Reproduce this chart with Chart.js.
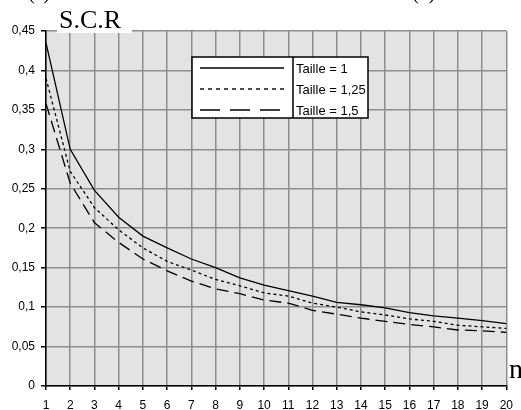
<!DOCTYPE html>
<html>
<head>
<meta charset="utf-8">
<script src="https://cdn.jsdelivr.net/npm/chart.js@4/dist/chart.umd.min.js"></script>
<style>
html,body{margin:0;padding:0;background:#fff;}
canvas{display:block;}
</style>
</head>
<body>
<canvas id="c" width="521" height="410"></canvas>
<script>
const nValues = ['1','2','3','4','5','6','7','8','9','10','11','12','13','14','15','16','17','18','19','20'];
const taille1   = [0.435,0.300,0.248,0.214,0.190,0.175,0.161,0.150,0.137,0.128,0.121,0.114,0.106,0.103,0.099,0.093,0.089,0.086,0.083,0.079];
const taille125 = [0.390,0.272,0.226,0.198,0.175,0.158,0.147,0.135,0.127,0.118,0.114,0.105,0.100,0.094,0.090,0.085,0.082,0.077,0.075,0.073];
const taille15  = [0.358,0.257,0.207,0.182,0.161,0.146,0.133,0.123,0.117,0.109,0.105,0.096,0.091,0.086,0.082,0.078,0.075,0.071,0.070,0.068];
const seriesLabels = ['Taille = 1','Taille = 1,25','Taille = 1,5'];
const yAxisTitle = 'S.C.R';
const xAxisTitle = 'n';

const dashes = [[], [3,3], [12,6]];
const legendDashes = [[], [4,4], [20,10]];
const tickFont = {family:'"Liberation Sans", Arial, sans-serif',size:12};

const bgPlugin = {
  id:'bg',
  beforeDraw(chart){
    const {ctx, chartArea:a} = chart;
    ctx.save();
    ctx.fillStyle='#fff';
    ctx.fillRect(0,0,chart.width,chart.height);
    ctx.fillStyle='#e3e3e3';
    ctx.fillRect(a.left,a.top,a.right-a.left,a.bottom-a.top);
    ctx.restore();
  },
  afterDraw(chart){
    const ctx = chart.ctx;
    ctx.save();
    ctx.fillStyle='#000';
    ctx.font='20px "Liberation Serif", serif';
    ctx.textBaseline='alphabetic';
    ctx.textAlign='left';
    ctx.fillText('(a)',28,-1);
    ctx.fillText('(b)',412,-1);
    ctx.fillStyle='#fff';
    ctx.fillRect(57,0,75,33);
    ctx.fillStyle='#000';
    ctx.font='26px "Liberation Serif", serif';
    ctx.fillText(yAxisTitle,59,28);
    ctx.font='28px "Liberation Serif", serif';
    ctx.fillText(xAxisTitle,509,378);
    const L=192,T=57,R=368,B=118,D=293;
    ctx.fillStyle='#fff';
    ctx.fillRect(L,T,R-L,B-T);
    ctx.strokeStyle='#000';
    ctx.lineWidth=1.5;
    ctx.strokeRect(L,T,R-L,B-T);
    ctx.beginPath();ctx.moveTo(D,T);ctx.lineTo(D,B);ctx.stroke();
    const rows=[68,89,110];
    ctx.fillStyle='#000';
    ctx.font='13px "Liberation Sans", Arial, sans-serif';
    ctx.textBaseline='middle';
    chart.data.datasets.forEach((ds,i)=>{
      ctx.setLineDash(legendDashes[i]);
      ctx.lineWidth=1.4;
      ctx.beginPath();ctx.moveTo(200,rows[i]);ctx.lineTo(284,rows[i]);ctx.stroke();
      ctx.setLineDash([]);
      ctx.fillText(ds.label,296,rows[i]+1);
    });
    ctx.restore();
  }
};

new Chart(document.getElementById('c'),{
  type:'line',
  data:{
    labels:nValues,
    datasets:[taille1,taille125,taille15].map((d,i)=>({
      label:seriesLabels[i],
      data:d,
      borderColor:'#000',
      borderWidth:1.3,
      borderDash:dashes[i],
      pointRadius:0,
      tension:0,
      fill:false
    }))
  },
  options:{
    responsive:false,
    animation:false,
    devicePixelRatio:1,
    layout:{padding:{top:31,right:13,left:0,bottom:0}},
    plugins:{legend:{display:false},tooltip:{enabled:false}},
    scales:{
      x:{
        type:'category',
        offset:false,
        grid:{color:'#8e8e8e',lineWidth:1.5,tickLength:4,tickColor:'#000',drawTicks:true},
        border:{color:'#000',width:1.5},
        ticks:{color:'#000',font:tickFont,padding:8,maxRotation:0,autoSkip:false},
        afterFit(s){s.height=24;}
      },
      y:{
        min:0,max:0.45,
        grid:{color:'#8e8e8e',lineWidth:1.5,tickLength:5,tickColor:'#000'},
        border:{color:'#000',width:1.5},
        ticks:{stepSize:0.05,color:'#000',font:tickFont,padding:6,
          callback:v=>String(Math.round(v*100)/100).replace('.',',')},
        afterFit(s){s.width=46;}
      }
    }
  },
  plugins:[bgPlugin]
});
</script>
</body>
</html>
